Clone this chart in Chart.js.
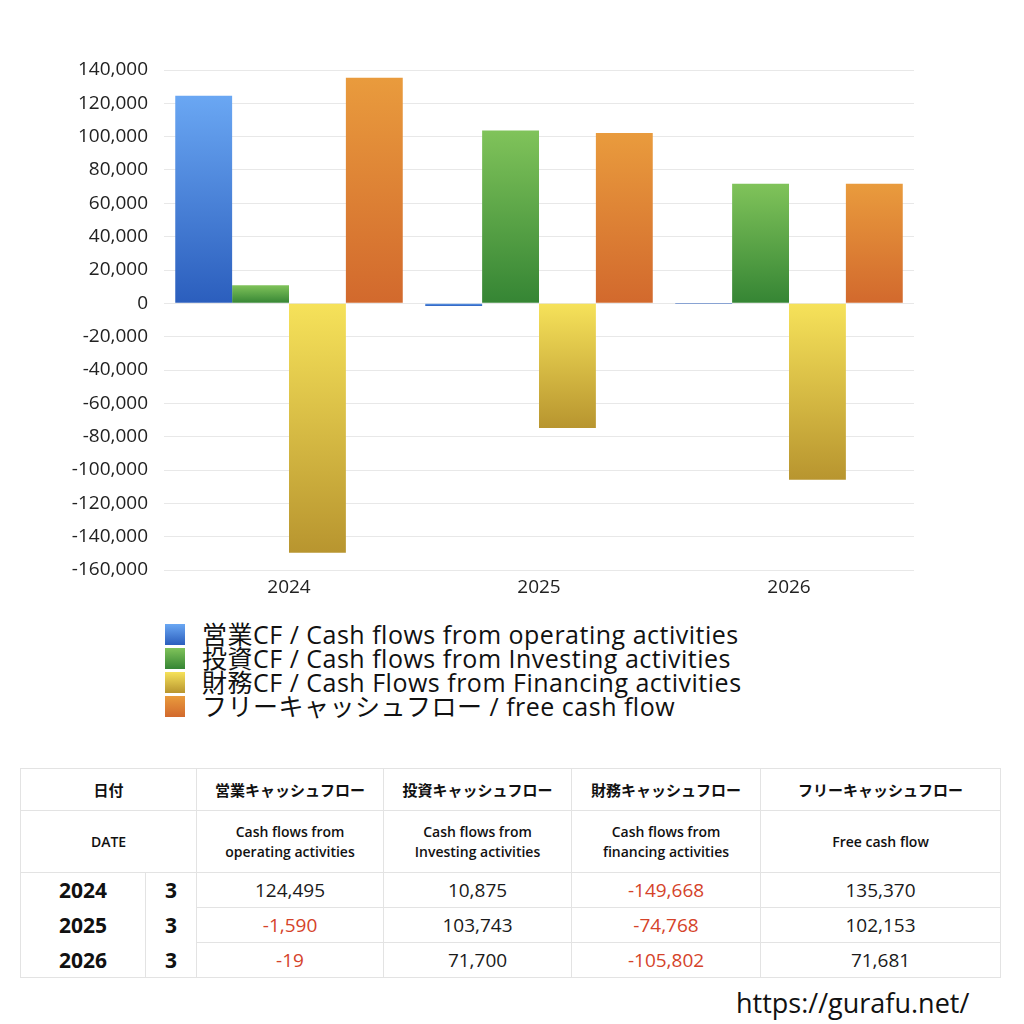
<!DOCTYPE html>
<html>
<head>
<meta charset="utf-8">
<script src="https://cdn.jsdelivr.net/npm/chart.js@4.4.1/dist/chart.umd.min.js"></script>
<style>
  html, body { margin: 0; padding: 0; background: #fff; width: 1024px; height: 1024px; overflow: hidden; }
  body { position: relative; font-family: "Open Sans", "Noto Sans CJK JP", sans-serif; color: #111; }
  #wrap { position: absolute; left: 0; top: 0; width: 1024px; height: 610px; }
  #legend { position: absolute; left: 165px; top: 622px; font-size: 25px; line-height: 24px; letter-spacing: 0.5px; color: #111; }
  .li { display: flex; align-items: center; height: 24px; white-space: nowrap; }
  .sw { width: 20px; height: 21px; margin-right: 17px; }
  table { position: absolute; left: 20px; top: 768px; width: 980px; border-collapse: collapse; table-layout: fixed; }
  td { border: 1px solid #e3e3e3; text-align: center; padding: 0; }
  .h1 td { height: 41px; font-size: 15px; font-weight: bold; }
  .h2 td { height: 61px; font-size: 14px; font-weight: 600; line-height: 20px; }
  .d td { height: 34px; font-size: 19px; color: #1a1a1a; }
  .d td.y { font-weight: bold; color: #111; font-size: 21px; }
  .neg { color: #d5432a !important; }
  .nb td.nt { border-top: none; }
  .nbb td.nbot { border-bottom: none; }
  #url { position: absolute; left: 736px; top: 984px; font-size: 27px; font-weight: 500; color: #111; font-family: "Open Sans", "Noto Sans", sans-serif; }
</style>
</head>
<body>
<div id="wrap"><canvas id="c" width="1024" height="610"></canvas></div>
<div id="legend"></div>
<table id="tbl"></table>
<div id="url">https://gurafu.net/</div>
<script>
const categories = ["2024", "2025", "2026"];
const operatingCF = [124495, -1590, -19];
const investingCF = [10875, 103743, 71700];
const financingCF = [-149668, -74768, -105802];
const freeCF = [135370, 102153, 71681];
const yTicks = [140000, 120000, 100000, 80000, 60000, 40000, 20000, 0, -20000, -40000, -60000, -80000, -100000, -120000, -140000, -160000];
const monthLabel = "3";
const seriesLabels = [
  "営業CF / Cash flows from operating activities",
  "投資CF / Cash flows from Investing activities",
  "財務CF / Cash Flows from Financing activities",
  "フリーキャッシュフロー / free cash flow"
];
const headJa = ["営業キャッシュフロー", "投資キャッシュフロー", "財務キャッシュフロー", "フリーキャッシュフロー"];
const headEn = ["Cash flows from<br>operating activities", "Cash flows from<br>Investing activities", "Cash flows from<br>financing activities", "Free cash flow"];

const grads = [
  ["#6aa7f3", "#2b5ebd"],
  ["#80c35a", "#358534"],
  ["#f6e25a", "#b8952f"],
  ["#e99b3d", "#d2692d"]
];

function gradFor(idx) {
  return function(ctx) {
    const chart = ctx.chart;
    const ca = chart.chartArea;
    if (!ca || ctx.type !== 'data') return grads[idx][1];
    const ys = chart.scales.y;
    const v = ctx.raw;
    const p0 = ys.getPixelForValue(0);
    const p1 = ys.getPixelForValue(v);
    const top = Math.min(p0, p1), bot = Math.max(p0, p1);
    if (bot - top < 1) return grads[idx][1];
    const g = chart.ctx.createLinearGradient(0, top, 0, bot);
    g.addColorStop(0, grads[idx][0]);
    g.addColorStop(1, grads[idx][1]);
    return g;
  };
}

const allSeries = [operatingCF, investingCF, financingCF, freeCF];
const datasets = allSeries.map((d, i) => ({
  label: seriesLabels[i],
  data: d,
  backgroundColor: gradFor(i),
  borderWidth: 0,
  barPercentage: 1.0,
  categoryPercentage: 0.91
}));

new Chart(document.getElementById('c'), {
  type: 'bar',
  data: { labels: categories, datasets },
  options: {
    responsive: false,
    animation: false,
    layout: { padding: { left: 0, right: 110, top: 70, bottom: 8 } },
    plugins: { legend: { display: false }, tooltip: { enabled: false } },
    scales: {
      x: {
        grid: { display: false },
        border: { display: false },
        ticks: { color: '#222', font: { size: 19, family: '"Open Sans", sans-serif' }, padding: -2 },
        afterFit: s => { s.height = 32; }
      },
      y: {
        min: -160000, max: 140000,
        afterBuildTicks: s => { s.ticks = yTicks.map(v => ({ value: v })); },
        grid: { color: '#e8e8e8', lineWidth: 1, drawTicks: false },
        border: { display: false },
        ticks: {
          color: '#222',
          padding: 16,
          font: { size: 19, family: '"Open Sans", sans-serif' },
          callback: v => v.toLocaleString('en-US')
        },
        afterFit: s => { s.width = 164; }
      }
    }
  }
});

// legend
const lg = document.getElementById('legend');
seriesLabels.forEach((l, i) => {
  const d = document.createElement('div');
  d.className = 'li';
  d.innerHTML = '<span class="sw" style="background:linear-gradient(' + grads[i][0] + ',' + grads[i][1] + ')"></span><span>' + l + '</span>';
  lg.appendChild(d);
});

// table
const fmt = v => v.toLocaleString('en-US');
let html = '<colgroup><col style="width:125px"><col style="width:51px"><col style="width:187px"><col style="width:188px"><col style="width:189px"><col style="width:240px"></colgroup>';
html += '<tr class="h1"><td colspan="2">日付</td>' + headJa.map(h => '<td>' + h + '</td>').join('') + '</tr>';
html += '<tr class="h2"><td colspan="2">DATE</td>' + headEn.map(h => '<td>' + h + '</td>').join('') + '</tr>';
categories.forEach((c, r) => {
  const vals = allSeries.map(s => s[r]);
  const cls = 'd' + (r > 0 ? ' nb' : '') + (r < categories.length - 1 ? ' nbb' : '');
  html += '<tr class="' + cls + '"><td class="y nt nbot">' + c + '</td><td class="y nt nbot">' + monthLabel + '</td>' +
    vals.map(v => '<td class="' + (v < 0 ? 'neg' : '') + '">' + fmt(v) + '</td>').join('') + '</tr>';
});
document.getElementById('tbl').innerHTML = html;
</script>
</body>
</html>
